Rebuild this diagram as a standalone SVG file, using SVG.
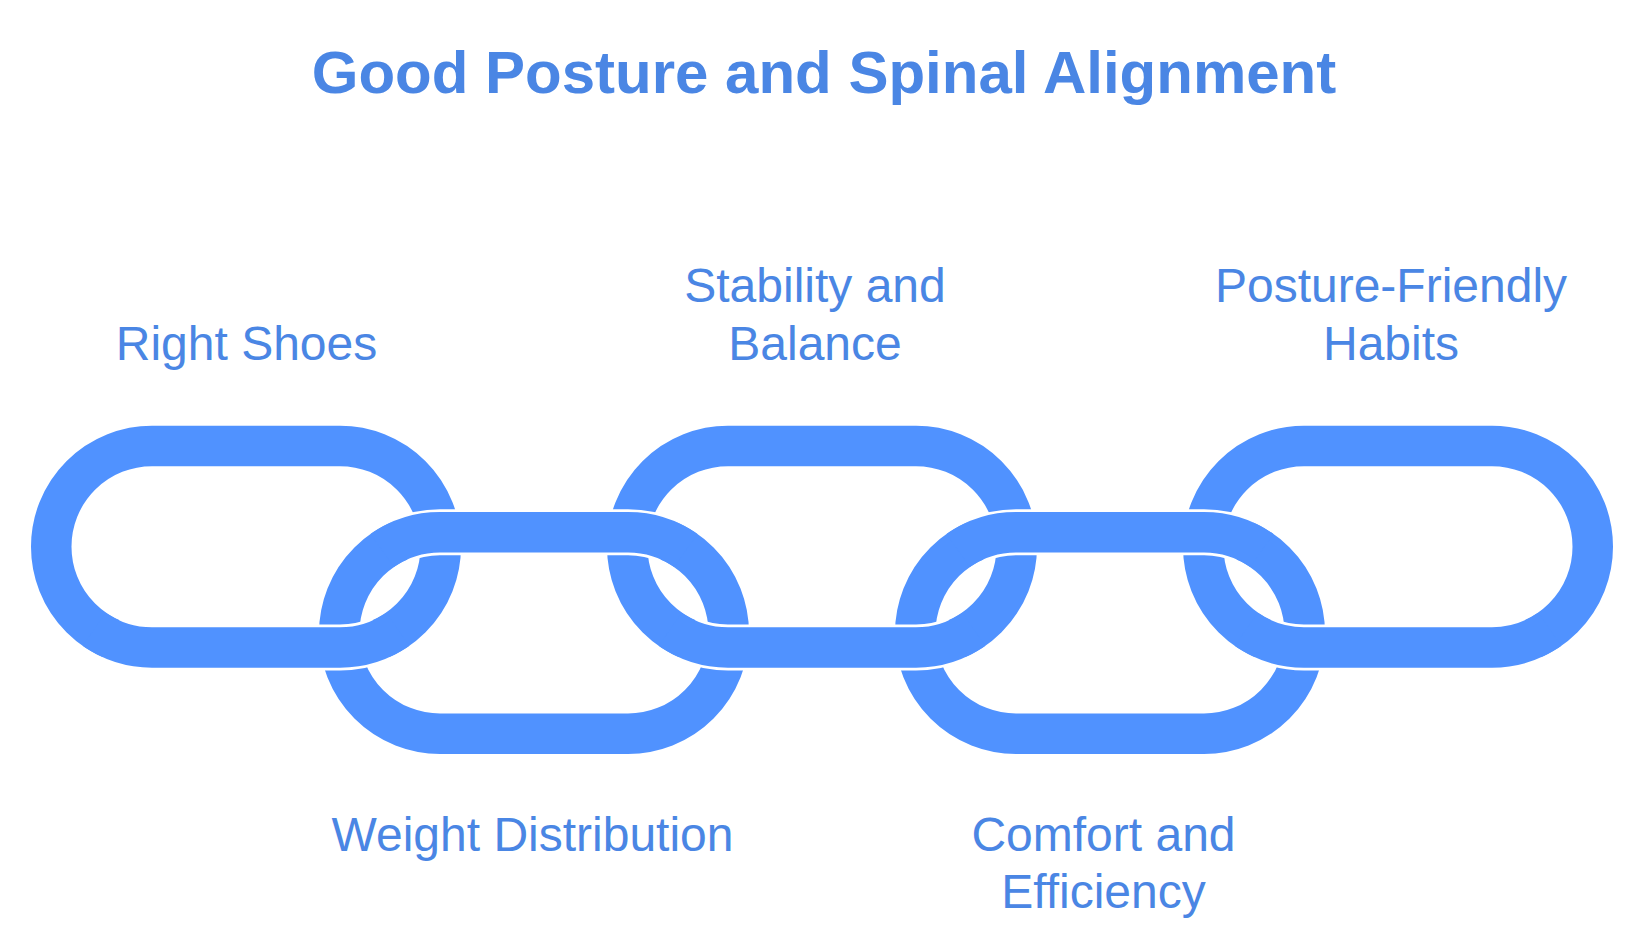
<svg xmlns="http://www.w3.org/2000/svg" width="1644" height="951" viewBox="0 0 1644 951">
  <style>
    .bg { fill: #ffffff; }
    .link { fill: none; stroke: #5092FF; stroke-width: 40.5; }
    .gap { fill: none; stroke: #ffffff; stroke-width: 46; stroke-linecap: butt; }
    .over { fill: none; stroke: #5092FF; stroke-width: 40.5; stroke-linecap: butt; }
    .label { font-family: "Liberation Sans", Arial, sans-serif; font-size: 48px; fill: #4A86E4; text-anchor: middle; }
    .title { font-family: "Liberation Sans", Arial, sans-serif; font-size: 60px; font-weight: bold; fill: #4A86E4; text-anchor: middle; }
  </style>
  <rect class="bg" x="0" y="0" width="1644" height="951"/>
  <text class="title" x="824" y="92.5">Good Posture and Spinal Alignment</text>

  <g id="link-right-shoes">
    <path class="link" d="M152 445.95 L340 445.95 A100.75 100.75 0 0 1 340 647.45 L152 647.45 A100.75 100.75 0 0 1 152 445.95 Z"/>
    <text class="label" x="246.5" y="360">Right Shoes</text>
  </g>
  <g id="link-weight-distribution">
    <path class="link" d="M440 532.25 L628 532.25 A100.75 100.75 0 0 1 628 733.75 L440 733.75 A100.75 100.75 0 0 1 440 532.25 Z"/>
    <text class="label" x="532.5" y="850.5">Weight Distribution</text>
  </g>
  <g id="link-stability-balance">
    <path class="link" d="M728 445.95 L916 445.95 A100.75 100.75 0 0 1 916 647.45 L728 647.45 A100.75 100.75 0 0 1 728 445.95 Z"/>
    <text class="label" x="815" y="302">Stability and</text>
    <text class="label" x="815" y="359.6">Balance</text>
  </g>
  <g id="link-comfort-efficiency">
    <path class="link" d="M1016 532.25 L1204 532.25 A100.75 100.75 0 0 1 1204 733.75 L1016 733.75 A100.75 100.75 0 0 1 1016 532.25 Z"/>
    <text class="label" x="1103.5" y="850.5">Comfort and</text>
    <text class="label" x="1103.5" y="908">Efficiency</text>
  </g>
  <g id="link-posture-habits">
    <path class="link" d="M1304 445.95 L1492 445.95 A100.75 100.75 0 0 1 1492 647.45 L1304 647.45 A100.75 100.75 0 0 1 1304 445.95 Z"/>
    <text class="label" x="1391" y="302">Posture-Friendly</text>
    <text class="label" x="1391" y="359.6">Habits</text>
  </g>

  <g id="connectors">
    <g id="overlap-weight-top">
      <path class="gap" d="M399.02 540.96 A100.75 100.75 0 0 1 440 532.25 L628 532.25 A100.75 100.75 0 0 1 668.98 540.96"/>
      <path class="over" d="M382.21 550.47 A100.75 100.75 0 0 1 440 532.25 L628 532.25 A100.75 100.75 0 0 1 685.79 550.47"/>
    </g>
    <g id="overlap-comfort-top">
      <path class="gap" d="M975.02 540.96 A100.75 100.75 0 0 1 1016 532.25 L1204 532.25 A100.75 100.75 0 0 1 1244.98 540.96"/>
      <path class="over" d="M958.21 550.47 A100.75 100.75 0 0 1 1016 532.25 L1204 532.25 A100.75 100.75 0 0 1 1261.79 550.47"/>
    </g>
    <g id="overlap-shoes-bottom">
      <path class="gap" d="M380.98 638.74 A100.75 100.75 0 0 1 340 647.45 L152 647.45 A100.75 100.75 0 0 1 111.02 638.74"/>
      <path class="over" d="M397.79 629.23 A100.75 100.75 0 0 1 340 647.45 L152 647.45 A100.75 100.75 0 0 1 94.21 629.23"/>
    </g>
    <g id="overlap-stability-bottom">
      <path class="gap" d="M956.98 638.74 A100.75 100.75 0 0 1 916 647.45 L728 647.45 A100.75 100.75 0 0 1 687.02 638.74"/>
      <path class="over" d="M973.79 629.23 A100.75 100.75 0 0 1 916 647.45 L728 647.45 A100.75 100.75 0 0 1 670.21 629.23"/>
    </g>
    <g id="overlap-habits-bottom">
      <path class="gap" d="M1532.98 638.74 A100.75 100.75 0 0 1 1492 647.45 L1304 647.45 A100.75 100.75 0 0 1 1263.02 638.74"/>
      <path class="over" d="M1549.79 629.23 A100.75 100.75 0 0 1 1492 647.45 L1304 647.45 A100.75 100.75 0 0 1 1246.21 629.23"/>
    </g>
  </g>
</svg>
